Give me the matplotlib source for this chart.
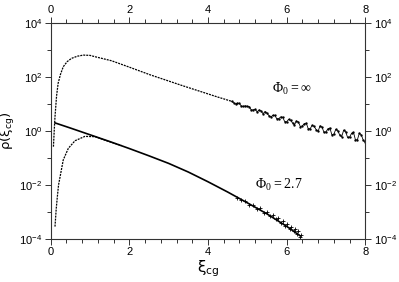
import numpy as np
import matplotlib
matplotlib.use("Agg")
import matplotlib.pyplot as plt
from matplotlib.ticker import FixedLocator, NullFormatter

# data (log10 of rho)
inf_x = [0.07, 0.09, 0.11, 0.15, 0.19, 0.25, 0.32, 0.42, 0.53, 0.68, 0.83, 1.0,
         1.13, 1.3, 1.55, 1.97, 2.53, 3.37, 4.22, 4.6]
inf_logy = [-0.58, 0.0, 0.53, 1.3, 1.77, 2.1, 2.38, 2.57, 2.69, 2.77, 2.81, 2.8,
            2.75, 2.69, 2.6, 2.38, 2.08, 1.67, 1.27, 1.10]
# noisy tail of the infinite-depth curve
tail_x = [4.6, 4.65, 4.7, 4.75, 4.8, 4.85, 4.9, 4.95, 5.0, 5.05, 5.1, 5.15, 5.2,
          5.25, 5.3, 5.35, 5.4, 5.45, 5.5, 5.55, 5.6, 5.65, 5.7, 5.75, 5.8, 5.85,
          5.9, 5.95, 6.0, 6.05, 6.1, 6.15, 6.2, 6.25, 6.3, 6.35, 6.4, 6.45, 6.5,
          6.55, 6.6, 6.65, 6.7, 6.75, 6.8, 6.85, 6.9, 6.95, 7.0, 7.05, 7.1, 7.15,
          7.2, 7.25, 7.3, 7.35, 7.4, 7.45, 7.5, 7.55, 7.6, 7.65, 7.7, 7.75, 7.8,
          7.85, 7.9, 7.95, 8.0]
tail_logy = [1.10, 1.05, 1.00, 1.03, 1.02, 0.92, 0.91, 0.93, 0.91, 0.90, 0.78,
             0.78, 0.80, 0.71, 0.78, 0.74, 0.64, 0.72, 0.66, 0.57, 0.52, 0.58,
             0.58, 0.45, 0.46, 0.52, 0.51, 0.35, 0.34, 0.43, 0.39, 0.30, 0.23,
             0.37, 0.33, 0.16, 0.19, 0.27, 0.29, 0.08, 0.09, 0.21, 0.17, 0.05,
             -0.01, 0.19, 0.14, -0.05, -0.03, 0.08, 0.11, -0.14, -0.12, 0.06,
             0.01, -0.15, -0.21, 0.03, -0.02, -0.24, -0.23, -0.09, -0.05, -0.33,
             -0.32, -0.08, -0.15, -0.35, -0.41]

fit_x = [0.11, 0.5, 1.0, 1.5, 2.0, 2.5, 3.0, 3.5, 4.0, 4.5, 5.0, 5.5, 6.0, 6.34]
fit_logy = [0.30, 0.11, -0.14, -0.39, -0.65, -0.92, -1.20, -1.52, -1.88, -2.26,
            -2.66, -3.07, -3.53, -3.88]

low_x = [0.11, 0.14, 0.17, 0.2, 0.24, 0.32, 0.45, 0.62, 0.87, 1.13, 1.4, 1.8]
low_logy = [-3.54, -2.9, -2.43, -2.0, -1.69, -1.07, -0.64, -0.36, -0.2, -0.21,
            -0.35, -0.54]
low_noise_x = [4.75, 4.85, 4.95, 5.05, 5.15, 5.25, 5.32, 5.42, 5.5, 5.58, 5.65,
               5.72, 5.78, 5.85, 5.9, 5.96, 6.02, 6.08, 6.12, 6.18, 6.22, 6.27,
               6.3, 6.34, 6.37]
low_noise_logy = [-2.47, -2.56, -2.60, -2.73, -2.75, -2.88, -2.85, -3.02, -2.99,
                  -3.13, -3.10, -3.26, -3.21, -3.41, -3.32, -3.52, -3.44, -3.62,
                  -3.54, -3.72, -3.62, -3.81, -3.72, -3.92, -3.85]

x_ticks = [0, 2, 4, 6, 8]
y_ticks = [1e-4, 1e-2, 1e0, 1e2, 1e4]

fig = plt.figure(figsize=(3.99, 2.82), dpi=100)
ax = fig.add_axes([0.127, 0.1525, 0.7885, 0.766])
ax.set_yscale("log")

dots = (0, (1.6, 0.8))
ax.plot(inf_x, 10 ** np.array(inf_logy), color="k", lw=0.9, ls=dots)
ax.plot(tail_x, 10 ** np.array(tail_logy), color="k", lw=0.6)
ax.plot(tail_x, 10 ** np.array(tail_logy), "k.", ms=1.4)
ax.plot(low_x, 10 ** np.array(low_logy), color="k", lw=0.9, ls=dots)
ax.plot(fit_x, 10 ** np.array(fit_logy), color="k", lw=1.2)
ax.plot(low_noise_x, 10 ** np.array(low_noise_logy), "k+", ms=2.2, mew=0.6)

ax.text(6.14, 10 ** 1.54, r"$\mathregular{\Phi_0 = \infty}$", fontsize=10,
        family="Liberation Serif", ha="center", va="center")
ax.text(5.8, 10 ** -2.0, r"$\mathregular{\Phi_0 = 2.7}$", fontsize=10,
        family="Liberation Serif", ha="center", va="center")

ax.set_xlim(0, 8)
ax.set_ylim(1e-4, 1e4)
ax.set_xticks(x_ticks)
ax.xaxis.set_minor_locator(FixedLocator(np.arange(0, 8.01, 0.4)))
ax.yaxis.set_major_locator(FixedLocator(y_ticks))
ax.yaxis.set_minor_locator(FixedLocator([1e-3, 1e-1, 1e1, 1e3]))
ax.yaxis.set_minor_formatter(NullFormatter())

ax.tick_params(which="both", direction="out", top=True, right=True,
               labeltop=True, labelright=True, labelsize=8, color="#333333",
               width=0.7)
ax.tick_params(which="major", length=4, pad=2)
ax.tick_params(which="minor", length=3)
for lab in ax.get_xticklabels() + ax.get_yticklabels():
    lab.set_family("Liberation Sans")
for sp in ax.spines.values():
    sp.set_linewidth(0.8)
    sp.set_color("#333333")

ax.set_xlabel(r"$\mathregular{\xi_{cg}}$", fontsize=11, labelpad=1)
ax.set_ylabel(r"$\mathregular{\rho(\xi_{cg})}$", fontsize=9.5)
ax.yaxis.set_label_coords(-0.108, 0.5)

fig.savefig("out.png", dpi=100)
